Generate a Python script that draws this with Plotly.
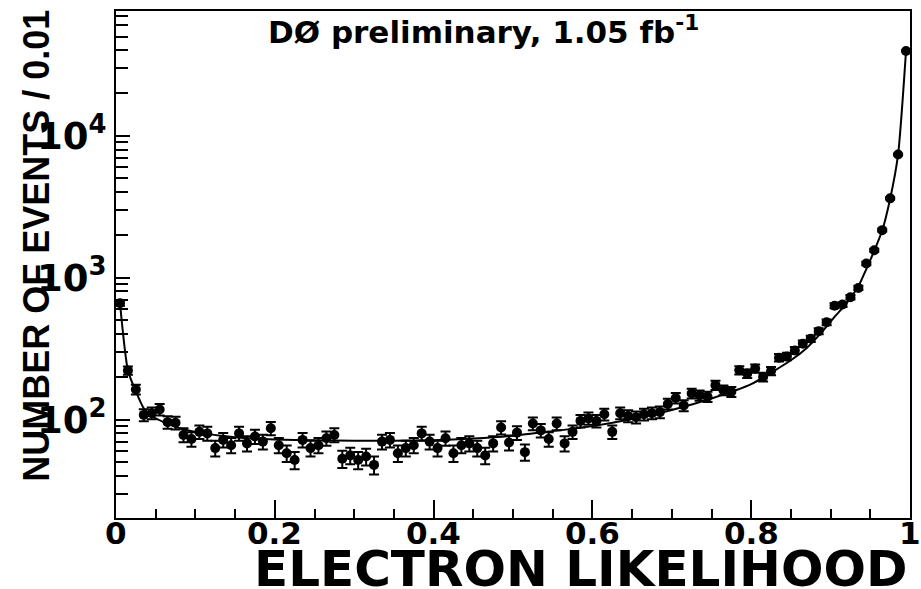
import numpy as np
import plotly.graph_objects as go

# Electron likelihood distribution, 100 bins of width 0.01
bin_width = 0.01
counts = [
    661, 222, 163, 108, 111, 118, 96, 95, 78, 73,
    82, 80, 63, 72, 66, 80, 68, 76, 70, 87,
    66, 58, 52, 72, 63, 66, 74, 78, 53, 56,
    52, 55, 48, 70, 72, 58, 63, 66, 80, 70,
    63, 74, 58, 66, 68, 63, 56, 68, 88, 69,
    81, 59, 94, 84, 73, 94, 68, 82, 98, 102,
    98, 109, 82, 111, 106, 104, 109, 111, 113, 129,
    142, 126, 153, 148, 145, 175, 161, 157, 223, 211,
    229, 200, 220, 273, 279, 307, 343, 371, 420, 485,
    635, 647, 728, 847, 1260, 1563, 2163, 3622, 7380, 39600,
]
bin_centers = np.round(np.arange(len(counts)) * bin_width + bin_width / 2, 3)
errors = np.sqrt(counts)

# fitted shape
fit_x = [0.005, 0.015, 0.025, 0.035, 0.045, 0.06, 0.08, 0.1, 0.15, 0.2, 0.25,
         0.3, 0.35, 0.4, 0.45, 0.5, 0.55, 0.6, 0.65, 0.7, 0.75, 0.8, 0.85,
         0.87, 0.89, 0.905, 0.92, 0.935, 0.945, 0.955, 0.965, 0.975, 0.985, 0.995]
fit_y = [661, 222, 158, 120, 106, 96, 87, 82, 75, 72.5, 71.5,
         71, 71, 71.5, 73.5, 77, 83, 90, 101, 117, 141, 178, 262,
         320, 420, 530, 660, 870, 1150, 1550, 2150, 3600, 7400, 39600]

x_tickvals = [0, 0.2, 0.4, 0.6, 0.8, 1]
x_ticktext = ["0", "0.2", "0.4", "0.6", "0.8", "1"]
y_tickvals = [100, 1000, 10000]
y_ticktext = ["10<sup>2</sup>", "10<sup>3</sup>", "10<sup>4</sup>"]

BOLD = "DejaVu Sans"

fig = go.Figure()
fig.add_trace(go.Scatter(
    x=fit_x, y=fit_y, mode="lines",
    line=dict(color="black", width=2, shape="spline", smoothing=0.6),
    hoverinfo="skip", showlegend=False,
))
fig.add_trace(go.Scatter(
    x=bin_centers, y=counts, mode="markers",
    marker=dict(color="black", size=10, symbol="circle"),
    error_y=dict(type="data", array=errors, visible=True,
                 color="black", thickness=2, width=5),
    showlegend=False,
))

# x tick labels placed just under the axis line
annotations = [
    dict(text=t, x=v, xref="x", y=0, yref="paper", xanchor="center",
         yanchor="top", yshift=5, showarrow=False,
         font=dict(family=BOLD, size=31, color="black", weight="bold"))
    for v, t in zip(x_tickvals, x_ticktext)
]
annotations += [
    dict(text="ELECTRON LIKELIHOOD", xref="paper", yref="paper",
         x=0.999, y=-0.1, xanchor="right", yanchor="middle",
         showarrow=False,
         font=dict(family=BOLD, size=50, color="black", weight="bold")),
    dict(text="NUMBER OF EVENTS / 0.01", xref="paper", yref="paper",
         x=-0.1, y=0.536, xanchor="center", yanchor="middle",
         textangle=-90, showarrow=False,
         font=dict(family="Liberation Sans", size=36, color="black", weight="bold")),
    dict(text="DØ preliminary, 1.05 fb<sup>-1</sup>", xref="paper", yref="paper",
         x=0.463, y=0.962, xanchor="center", yanchor="middle",
         showarrow=False,
         font=dict(family=BOLD, size=31, color="black", weight="bold")),
]

fig.update_layout(
    width=921, height=589,
    margin=dict(l=116, r=10, t=9, b=71),
    paper_bgcolor="white", plot_bgcolor="white",
    xaxis=dict(
        range=[0, 1], showgrid=False, zeroline=False,
        showline=True, linecolor="black", linewidth=2, mirror=True,
        ticks="inside", ticklen=18, tickwidth=1.5, tickcolor="black",
        tickvals=x_tickvals, showticklabels=False,
        minor=dict(ticks="inside", ticklen=9, tickwidth=1.5,
                   tickcolor="black", dtick=0.05),
    ),
    yaxis=dict(
        type="log", range=[1.307, 4.879], showgrid=False, zeroline=False,
        showline=True, linecolor="black", linewidth=2, mirror=True,
        ticks="inside", ticklen=14, tickwidth=1.5, tickcolor="black",
        tickvals=y_tickvals, ticktext=y_ticktext,
        tickfont=dict(family=BOLD, size=37, color="black", weight="bold"),
        minor=dict(ticks="inside", ticklen=12, tickwidth=1.5,
                   tickcolor="black", dtick="D1"),
    ),
    annotations=annotations,
)

fig.write_html("out.html")
